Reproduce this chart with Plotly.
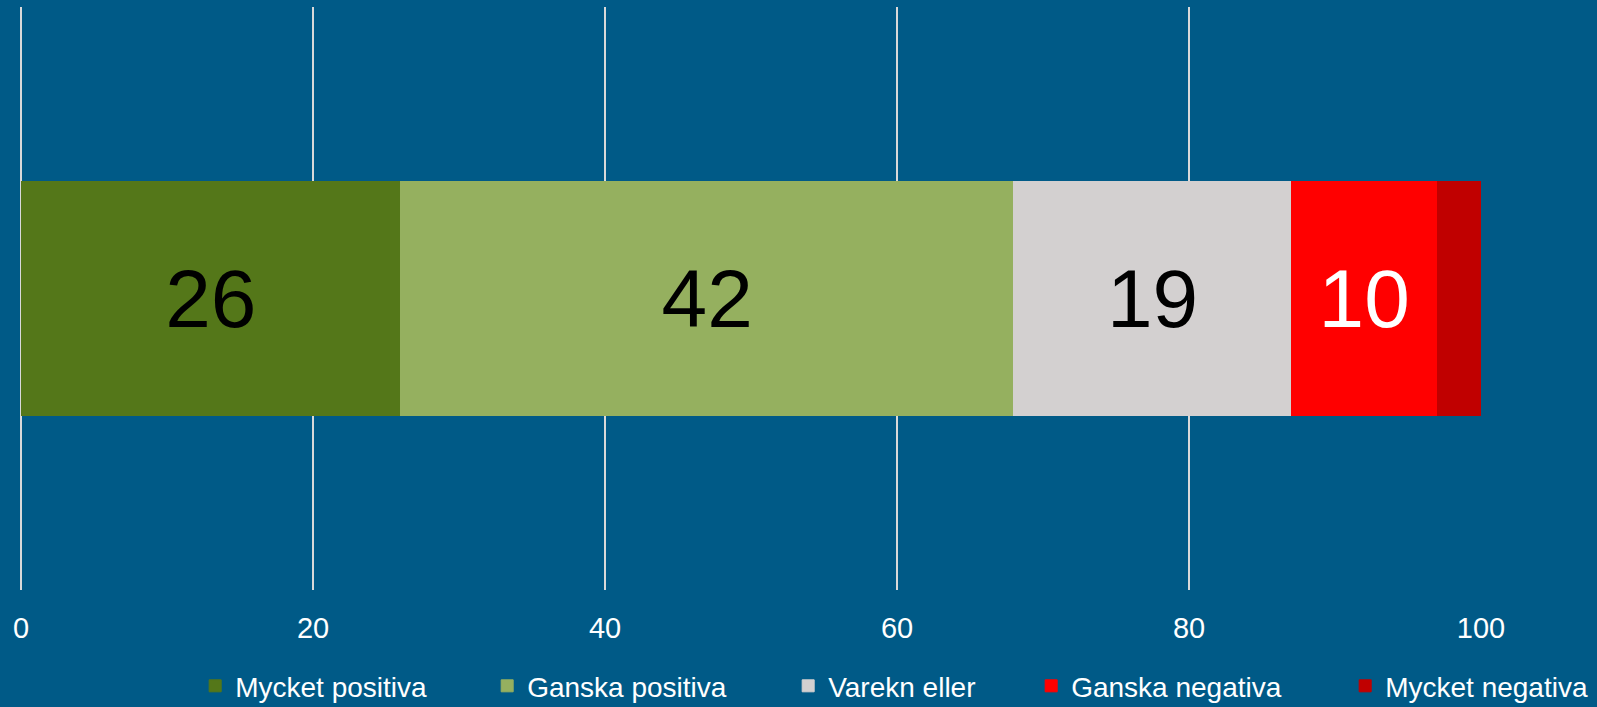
import plotly.graph_objects as go

categories = ["Svar"]
series_names = ["Mycket positiva", "Ganska positiva", "Varekn eller", "Ganska negativa", "Mycket negativa"]
series_values = [26, 42, 19, 10, 3]
series_labels = ["26", "42", "19", "10", ""]
series_colors = ["#547719", "#95B05F", "#D3D0D0", "#FF0000", "#C00000"]
label_colors = ["#000000", "#000000", "#000000", "#FFFFFF", "#FFFFFF"]
legend_widths = [247, 256, 198, 269, 230]
x_ticks = [0, 20, 40, 60, 80, 100]
x_ticklabels = ["0", "20", "40", "60", "80", "100"]

BG = "#005A87"
FONT = "Liberation Sans, Arial, sans-serif"

fig = go.Figure()
for name, val, lab, col, lcol, lw in zip(series_names, series_values, series_labels,
                                        series_colors, label_colors, legend_widths):
    fig.add_trace(go.Bar(
        y=categories, x=[val], name=name, orientation="h",
        marker=dict(color=col, line=dict(color=col, width=1)),
        text=[lab], textposition="inside", insidetextanchor="middle",
        textfont=dict(family=FONT, size=82, color=lcol),
        textangle=0, cliponaxis=False,
        legendwidth=lw,
        hoverinfo="x+name",
    ))

fig.update_layout(
    width=1597, height=707,
    barmode="stack", bargap=0.6,
    paper_bgcolor=BG, plot_bgcolor=BG,
    margin=dict(l=21, r=116, t=7, b=117, autoexpand=False),
    font=dict(family=FONT, color="#FFFFFF"),
    showlegend=True,
    legend=dict(orientation="h", x=0.1193, xanchor="left", y=-0.122, yanchor="top",
                font=dict(family=FONT, size=28, color="#FFFFFF"),
                bgcolor="rgba(0,0,0,0)", traceorder="normal"),
)
fig.update_xaxes(range=[0, 100], tickvals=x_ticks, ticktext=x_ticklabels,
                 showgrid=True, gridcolor="#D9D9D9", gridwidth=2,
                 zeroline=True, zerolinecolor="#D9D9D9", zerolinewidth=2,
                 showline=False, ticks="",
                 tickfont=dict(family=FONT, size=29, color="#FFFFFF"),
                 ticklabelstandoff=18)
fig.update_yaxes(range=[-0.5, 0.5], visible=False, showgrid=False)

fig.write_html("out.html",
               config={"displayModeBar": False},
               post_script="document.body.style.margin='0';document.body.style.background='" + BG + "';")
